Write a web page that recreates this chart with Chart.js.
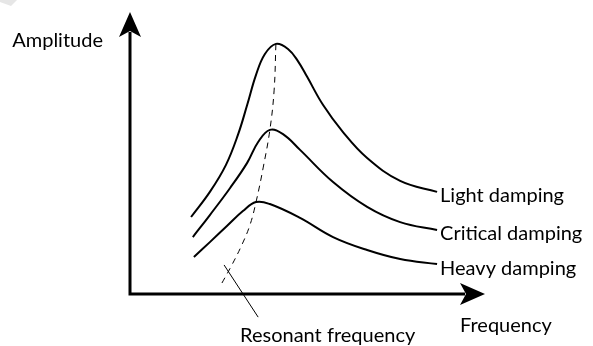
<!DOCTYPE html>
<html>
<head>
<meta charset="utf-8">
<script src="https://cdn.jsdelivr.net/npm/chart.js@4/dist/chart.umd.min.js"></script>
<style>
  html, body { margin: 0; padding: 0; background: #fff; }
  canvas { display: block; }
</style>
</head>
<body>
<canvas id="resonance" width="593" height="346"></canvas>
<script>
// frequency and amplitude in arbitrary units, both axes run 0..10
var lightFreq = [1.72, 2.25, 2.70, 3.04, 3.30, 3.55, 3.80, 4.11, 4.45, 4.73, 4.99, 5.44, 6.00, 6.68, 7.61, 8.65];
var lightAmp  = [2.73, 3.62, 4.57, 5.64, 6.70, 7.77, 8.51, 8.87, 8.69, 8.26, 7.70, 6.70, 5.74, 4.82, 4.01, 3.62];

var criticalFreq = [1.77, 2.25, 2.82, 3.30, 3.61, 3.94, 4.31, 4.79, 5.72, 6.68, 7.61, 8.65];
var criticalAmp  = [2.02, 2.80, 3.76, 4.65, 5.39, 5.82, 5.67, 5.11, 3.97, 3.09, 2.55, 2.27];

var heavyFreq = [1.80, 2.25, 2.73, 3.18, 3.55, 3.94, 4.79, 5.72, 6.68, 7.61, 8.65];
var heavyAmp  = [1.31, 1.84, 2.41, 2.94, 3.26, 3.19, 2.70, 2.02, 1.56, 1.24, 1.06];

// locus of the peaks
var resonanceFreq = [2.59, 2.87, 3.15, 3.38, 3.55, 3.75, 3.94, 4.06, 4.11];
var resonanceAmp  = [0.39, 1.03, 1.74, 2.45, 3.26, 4.47, 5.82, 7.23, 8.87];

var seriesNames = ['Light damping', 'Critical damping', 'Heavy damping'];
var xTitle = 'Frequency';
var yTitle = 'Amplitude';
var resonanceLabel = 'Resonant frequency';

var FONT = '20px Lato';

function pts(xs, ys) {
    return xs.map(function (x, i) { return { x: x, y: ys[i] }; });
}

var curve = {
    borderColor: '#000',
    borderWidth: 2,
    pointRadius: 0,
    fill: false,
    tension: 0.4
};

var diagram = {
    id: 'diagram',
    beforeDraw: function (chart) {
        var c = chart.ctx;
        // faint mark in the corner
        c.save();
        c.fillStyle = '#e6e6e6';
        c.beginPath();
        c.moveTo(0, 0); c.lineTo(17, 0); c.lineTo(11, 6); c.lineTo(0, 2);
        c.closePath();
        c.fill();
        c.restore();
    },
    afterDraw: function (chart) {
        var c = chart.ctx;
        var sx = chart.scales.x, sy = chart.scales.y;
        var x0 = sx.getPixelForValue(0), y0 = sy.getPixelForValue(0);
        var xEnd = sx.getPixelForValue(10), yEnd = sy.getPixelForValue(10);

        c.save();
        c.strokeStyle = '#000';
        c.fillStyle = '#000';
        c.lineWidth = 3;
        c.lineCap = 'butt';

        // axes
        c.beginPath();
        c.moveTo(x0, y0 + 1.5);
        c.lineTo(x0, yEnd + 20);
        c.moveTo(x0 - 1.5, y0);
        c.lineTo(xEnd - 20, y0);
        c.stroke();

        // arrow heads
        c.beginPath();
        c.moveTo(x0, yEnd);
        c.lineTo(x0 + 11, yEnd + 25);
        c.lineTo(x0, yEnd + 19);
        c.lineTo(x0 - 11, yEnd + 25);
        c.closePath();
        c.fill();

        c.beginPath();
        c.moveTo(xEnd, y0);
        c.lineTo(xEnd - 25, y0 - 11);
        c.lineTo(xEnd - 19, y0);
        c.lineTo(xEnd - 25, y0 + 11);
        c.closePath();
        c.fill();

        // leader to the resonant frequency label
        c.lineWidth = 1;
        c.beginPath();
        c.moveTo(sx.getPixelForValue(2.65), sy.getPixelForValue(1.03));
        c.lineTo(sx.getPixelForValue(3.61), sy.getPixelForValue(-0.82));
        c.stroke();

        c.font = FONT;
        c.textBaseline = 'alphabetic';
        c.textAlign = 'left';
        c.fillText(resonanceLabel, sx.getPixelForValue(3.1), y0 + 48);
        c.fillText(xTitle, xEnd - 25, y0 + 38);
        c.textAlign = 'right';
        c.fillText(yTitle, x0 - 27, yEnd + 35);

        // curve names at the end of each curve
        c.textAlign = 'left';
        c.textBaseline = 'middle';
        var ends = [
            [lightFreq, lightAmp],
            [criticalFreq, criticalAmp],
            [heavyFreq, heavyAmp]
        ];
        ends.forEach(function (e, i) {
            var n = e[0].length - 1;
            c.fillText(seriesNames[i],
                sx.getPixelForValue(e[0][n]) + 3,
                sy.getPixelForValue(e[1][n]) + 4);
        });
        c.restore();
    }
};

new Chart(document.getElementById('resonance'), {
    type: 'line',
    data: {
        datasets: [
            Object.assign({ label: seriesNames[0], data: pts(lightFreq, lightAmp) }, curve),
            Object.assign({ label: seriesNames[1], data: pts(criticalFreq, criticalAmp) }, curve),
            Object.assign({ label: seriesNames[2], data: pts(heavyFreq, heavyAmp) }, curve),
            {
                label: resonanceLabel,
                data: pts(resonanceFreq, resonanceAmp),
                borderColor: '#000',
                borderWidth: 1,
                borderDash: [6, 5],
                pointRadius: 0,
                fill: false,
                tension: 0.4
            }
        ]
    },
    options: {
        responsive: false,
        animation: false,
        devicePixelRatio: 1,
        layout: { padding: { left: 130, right: 108, top: 12, bottom: 52 } },
        scales: {
            x: { type: 'linear', min: 0, max: 10, display: false },
            y: { type: 'linear', min: 0, max: 10, display: false }
        },
        plugins: {
            legend: { display: false },
            tooltip: { enabled: false }
        }
    },
    plugins: [diagram]
});
</script>
</body>
</html>
